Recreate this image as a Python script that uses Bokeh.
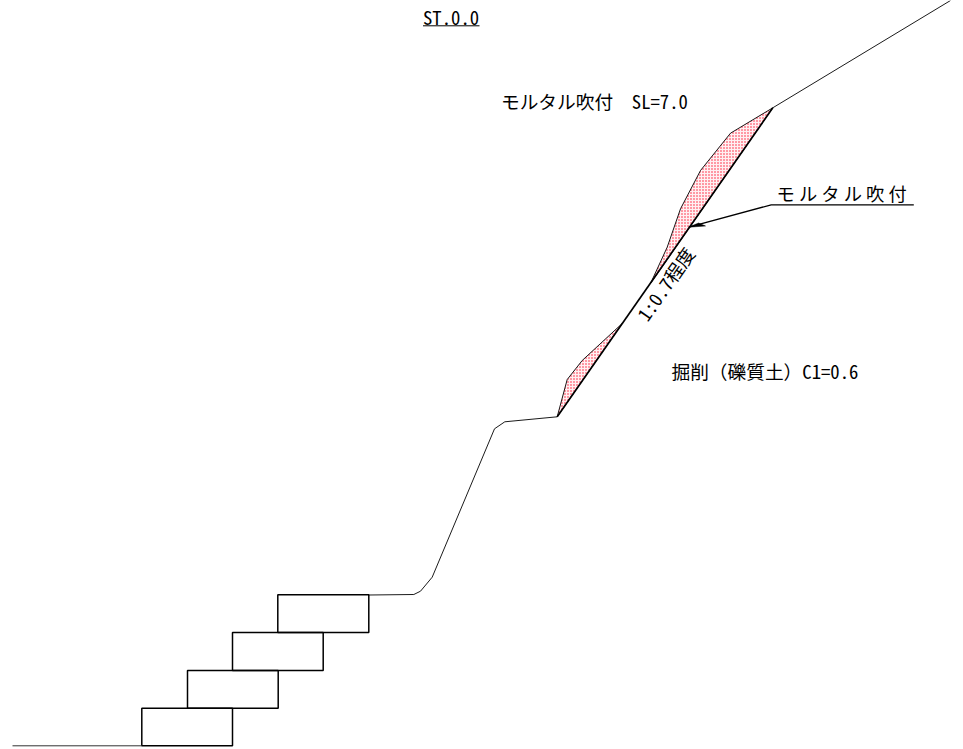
from bokeh.plotting import figure
from bokeh.models import Range1d
from bokeh.core.properties import value
from bokeh.embed import file_html
from bokeh.resources import INLINE

# Drawing coordinates (x to the right, y downwards)
ground_x = [12, 141.3]
ground_y = [745.3, 745.3]
block_left = [141.3, 187, 232, 277.3]
block_right = [232, 277.7, 322.7, 368.3]
block_top = [707.7, 670, 632, 594.3]
block_bottom = [745.3, 707.7, 670, 632]
terrain_x = [368.3, 413.3, 420, 431.7, 494, 504.3, 556.7]
terrain_y = [594.5, 594, 590.7, 576.7, 428.3, 421.3, 416.3]
cut_x = [556.7, 772.3]
cut_y = [416.3, 107.3]
upper_x = [772.3, 950]
upper_y = [107.3, 0]
mortar_upper_x = [772.3, 730, 700, 680, 666.7, 650]
mortar_upper_y = [107.3, 132.7, 170, 208.3, 246.7, 283]
mortar_lower_x = [621.7, 581.7, 566.7, 556.7]
mortar_lower_y = [323, 360, 379, 416.3]
leader_x = [913.3, 770.7, 688.3]
leader_y = [204.3, 204.3, 226.7]
arrow_x = [688.3, 705, 698]
arrow_y = [226.7, 225.5, 222.5]
title_line_x = [422.5, 479]
title_line_y = [25.3, 25.3]

labels = ["ST.0.0", "モルタル吹付\u3000SL=7.0", "掘削（礫質土）C1=0.6"]
label_x = [422.5, 500.5, 671]
label_y = [15.5, 100, 369.5]
leader_label = "モ ル タ ル 吹 付"
slope_label = "1:0.7程度"

FONT = "Noto Sans Mono CJK JP, Noto Sans CJK JP"
W, H = 963, 749

p = figure(width=W, height=H, x_range=Range1d(0, W), y_range=Range1d(H, 0),
           output_backend="svg", toolbar_location=None, min_border=0,
           x_axis_type=None, y_axis_type=None, outline_line_color=None,
           background_fill_color="white", border_fill_color="white")
p.grid.visible = False
p.styles = {"position": "absolute", "left": "0", "top": "0"}

for xs, ys in [(mortar_upper_x, mortar_upper_y), (mortar_lower_x, mortar_lower_y)]:
    p.patch(xs, ys, fill_color="#ff98a4", line_color="black", line_width=0.9,
            hatch_pattern="cross", hatch_color="#fff0f2", hatch_scale=3, hatch_weight=1)

p.quad(left=block_left, right=block_right, top=block_top, bottom=block_bottom,
       fill_color=None, line_color="black", line_width=1.5)
p.line(ground_x, ground_y, line_color="#333333", line_width=1)
p.line(terrain_x, terrain_y, line_color="black", line_width=0.9)
p.line(cut_x, cut_y, line_color="black", line_width=1.7)
p.line(upper_x, upper_y, line_color="black", line_width=0.9)
p.line(leader_x, leader_y, line_color="black", line_width=1.3)
p.patch(arrow_x, arrow_y, fill_color="black", line_color="black", line_width=0.5)
p.line(title_line_x, title_line_y, line_color="black", line_width=1)

p.text(label_x, label_y, text=labels, text_font=value(FONT), text_font_size="18.7px",
       text_color="#000000", text_align="left", text_baseline="middle")
p.text([776], [192], text=[leader_label], text_font=value("Noto Sans CJK JP"),
       text_font_size="18.3px", text_color="#000000", text_align="left", text_baseline="middle")
p.text([664.5], [283], text=[slope_label], angle=[55], angle_units="deg",
       text_font=value(FONT), text_font_size="18.7px", text_color="#000000",
       text_align="center", text_baseline="middle")

open("out.html", "w").write(file_html(p, INLINE))
